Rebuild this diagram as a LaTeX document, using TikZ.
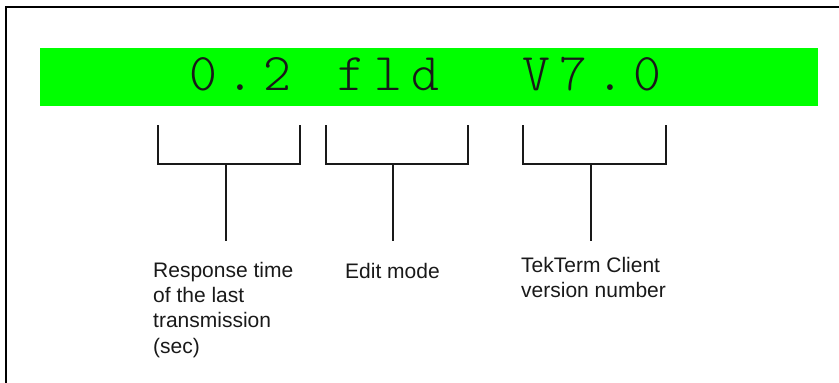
\documentclass[tikz,border=0pt]{standalone}
\usepackage{fontspec}
\setmainfont{Liberation Sans}
\newfontfamily\monofnt{lmmonolt10-regular.otf}
\definecolor{lcdgreen}{RGB}{0,255,0}
\definecolor{inkgray}{RGB}{25,25,25}
\newcommand\lcdcell[1]{\makebox[37pt][c]{#1}}
\begin{document}
\begin{tikzpicture}[x=1pt,y=-1pt,
  frameline/.style={line width=2pt, draw=black},
  lcdbar/.style={fill=lcdgreen, draw=none, inner sep=0pt, minimum width=778pt, minimum height=58pt},
  lcdtext/.style={font=\monofnt\fontsize{53}{54}\selectfont, text=inkgray, inner sep=0pt, anchor=base west},
  bracketline/.style={line width=2.8pt, draw=inkgray},
  labeltext/.style={font=\fontsize{21}{25.2}\selectfont, text=inkgray, inner sep=0pt, anchor=north west, align=left}
]
\useasboundingbox (0,0) rectangle (839,383);
% frame (top and left edges visible)
\draw[frameline] (6,384) -- (6,6.5) -- (840,6.5);
% display bar
\node[lcdbar] (bar) at (429,77) {};
\node[lcdtext] (code) at (185,90) {\lcdcell{0}\lcdcell{.}\lcdcell{2}\lcdcell{ }\lcdcell{f}\lcdcell{l}\lcdcell{d}\lcdcell{ }\lcdcell{ }\lcdcell{V}\lcdcell{7}\lcdcell{.}\lcdcell{0}};
% bracket 1
\coordinate (b1l) at (158,125);
\coordinate (b1r) at (300,125);
\coordinate (b1m) at (226,164);
\coordinate (b1e) at (226,241);
\draw[bracketline] (b1l) |- (b1m) -| (b1r);
\draw[bracketline] (b1m) -- (b1e);
% bracket 2
\coordinate (b2l) at (326,125);
\coordinate (b2r) at (468,125);
\coordinate (b2m) at (393,164);
\coordinate (b2e) at (393,241);
\draw[bracketline] (b2l) |- (b2m) -| (b2r);
\draw[bracketline] (b2m) -- (b2e);
% bracket 3
\coordinate (b3l) at (523,125);
\coordinate (b3r) at (666,125);
\coordinate (b3m) at (591,164);
\coordinate (b3e) at (591,241);
\draw[bracketline] (b3l) |- (b3m) -| (b3r);
\draw[bracketline] (b3m) -- (b3e);
% labels
\node[labeltext] (lab1) at (153,262) {Response time\\of the last\\transmission\\(sec)};
\node[labeltext] (lab2) at (345,263) {Edit mode};
\node[labeltext] (lab3) at (521,257) {TekTerm Client\\version number};
\end{tikzpicture}
\end{document}
